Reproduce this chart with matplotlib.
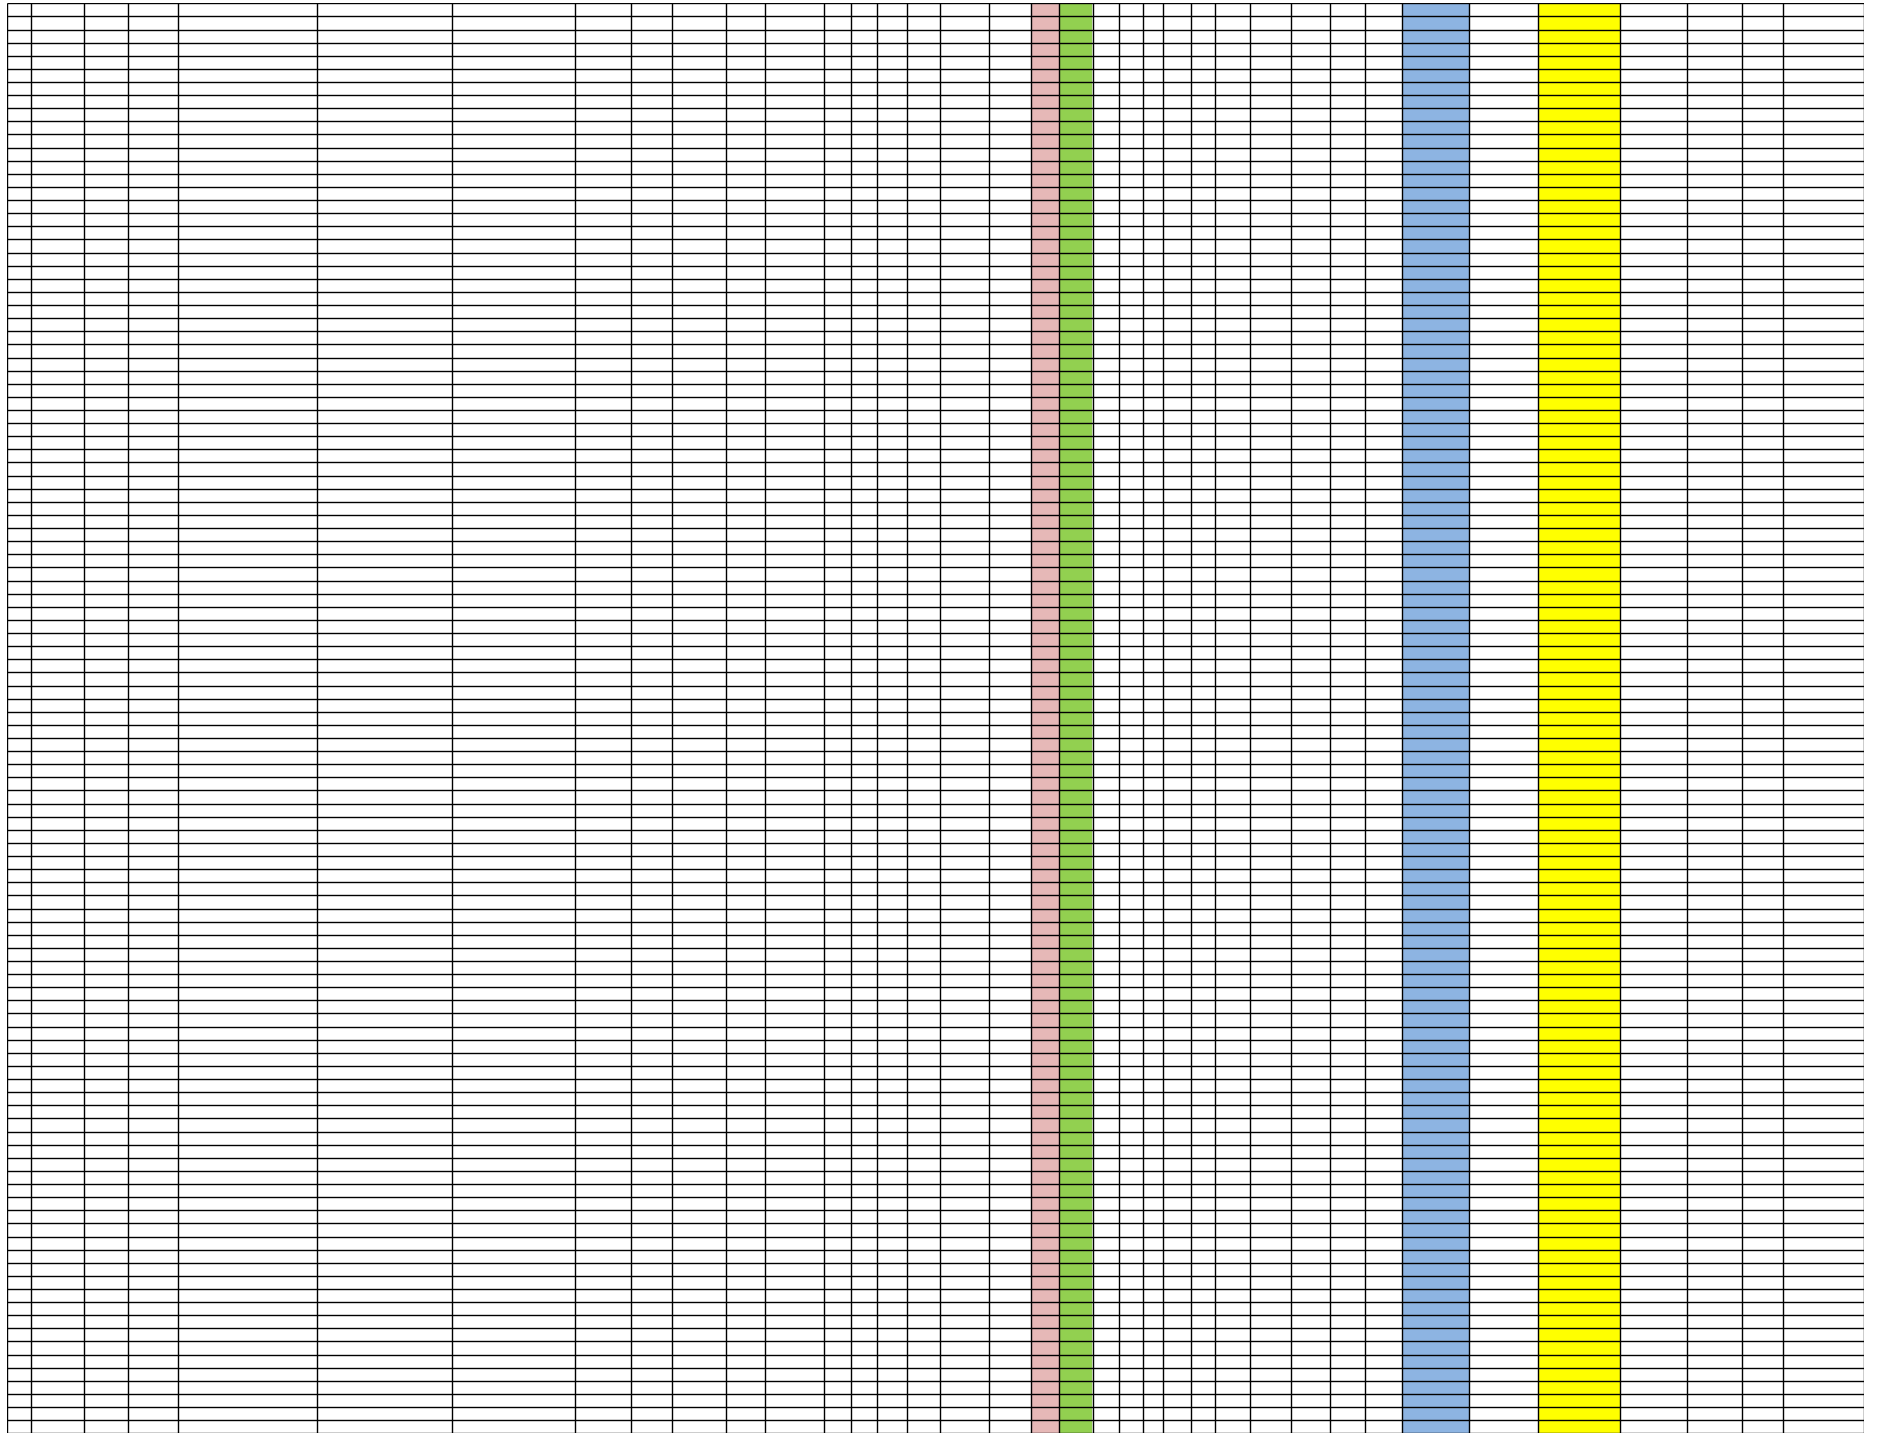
import numpy as np
import matplotlib
matplotlib.use("Agg")
import matplotlib.pyplot as plt

# Column widths of the spreadsheet grid (reference pixel units)
column_widths = [24, 53, 44, 50, 139, 135, 123, 56, 41, 54, 39, 59, 27, 25.4,
                 30.6, 33, 48.4, 42, 28.6, 34.2, 25.8, 23.4, 20.6, 28, 24, 35,
                 41, 39, 34.4, 37, 67.3, 68.7, 82.3, 67.3, 54.4, 41.6, 80.7]
n_rows = 109
# Filled columns: index -> colour
fill_columns = {18: "#E6B8B7", 19: "#92D050", 30: "#8DB4E2", 32: "#FFFF00"}

W, H = 1883, 1435
fig = plt.figure(figsize=(W / 100, H / 100), dpi=100)
left_px, right_px = 7.3, 1864.0
top_px, bottom_px = 3.3, 1433.3
ax = fig.add_axes([left_px / W, (H - bottom_px) / H,
                   (right_px - left_px) / W, (bottom_px - top_px) / H])

edges = np.concatenate([[0], np.cumsum(column_widths)])
total = edges[-1]

# coloured columns
for idx, col in fill_columns.items():
    ax.bar(edges[idx], n_rows, width=column_widths[idx], bottom=0,
           align="edge", color=col, linewidth=0, zorder=1)

# thin white line at right edge of green column
g = 19
ax.vlines(edges[g + 1] - 1.3, 0, n_rows, color="white", lw=0.6, zorder=2)

# grid lines
ax.vlines(edges, 0, n_rows, color="black", lw=1.0, zorder=3)
ax.hlines(np.arange(n_rows + 1), 0, total, color="black", lw=1.0, zorder=3)

ax.set_xlim(0, total)
ax.set_ylim(n_rows, 0)
ax.axis("off")

fig.savefig("out.png", dpi=100, facecolor="white")
